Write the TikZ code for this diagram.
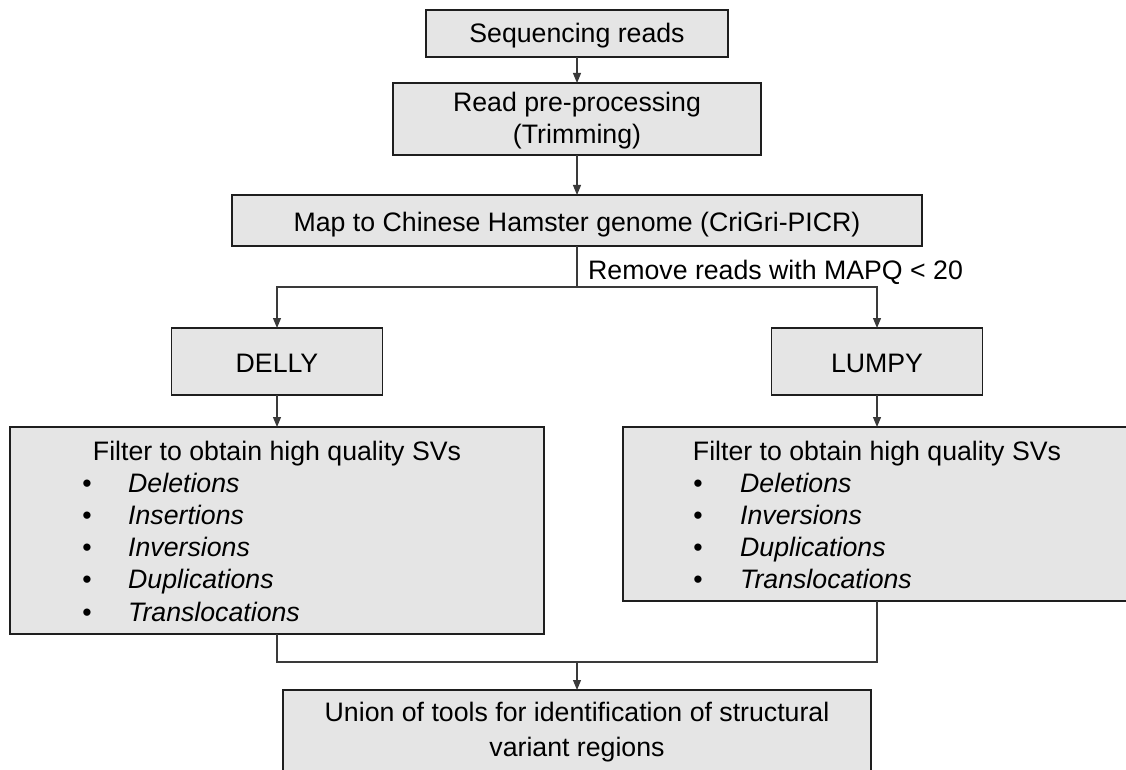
\documentclass[tikz,border=0pt]{standalone}
\usepackage{fontspec}
\setmainfont{Liberation Sans}
\usetikzlibrary{arrows.meta}
\definecolor{boxfill}{HTML}{E5E5E5}
\definecolor{boxline}{HTML}{1E1E1E}
\definecolor{connc}{HTML}{3A3A3A}
\tikzset{
  box/.style={draw=boxline, line width=1.4pt, fill=boxfill, inner sep=0pt, outer sep=0pt},
  txt/.style={anchor=base, inner sep=0pt, font=\fontsize{26.7}{32}\selectfont},
  itm/.style={txt, anchor=base west, font=\fontsize{26.7}{32}\selectfont\itshape},
  conn/.style={draw=connc, line width=1.1pt},
  arr/.style={conn, -{Triangle[length=10pt,width=8pt]}},
}
\begin{document}
\begin{tikzpicture}[x=1pt,y=-1pt]
\useasboundingbox (0,0) rectangle (1126,770);
\clip (0,0) rectangle (1126,770);
% boxes
\node[box, minimum width=302, minimum height=47] (seq) at (577,33.5) {};
\node[box, minimum width=368, minimum height=72] (read) at (577,119) {};
\node[box, minimum width=690, minimum height=51] (map) at (577,220.5) {};
\node[box, minimum width=211, minimum height=67] (delly) at (277,361.5) {};
\node[box, minimum width=211, minimum height=67] (lumpy) at (877,361.5) {};
\node[box, minimum width=534, minimum height=207] (lf) at (277,530.5) {};
\node[box, minimum width=508, minimum height=174] (rf) at (877,514) {};
\node[box, minimum width=588, minimum height=90] (union) at (577,735) {};
% connectors
\coordinate (split) at (577,287);
\coordinate (join) at (577,662);
\draw[arr] (seq.south) -- (read.north);
\draw[arr] (read.south) -- (map.north);
\draw[conn] (map.south) -- (split);
\draw[arr] (split) -| (delly.north);
\draw[arr] (split) -| (lumpy.north);
\draw[arr] (delly.south) -- (lf.north);
\draw[arr] (lumpy.south) -- (rf.north);
\draw[conn] (lf.south) |- (join);
\draw[conn] (rf.south) |- (join);
\draw[arr] (join) -- (union.north);
% texts
\node[txt] (tseq) at (577,42.5) {Sequencing reads};
\node[txt] (tread1) at (577,112) {Read pre-processing};
\node[txt] (tread2) at (577,144) {(Trimming)};
\node[txt] (tmap) at (577,231.5) {Map to Chinese Hamster genome (CriGri-PICR)};
\node[txt, anchor=base west] (tlab) at (588,279) {Remove reads with MAPQ < 20};
\node[txt] (tdelly) at (277,372) {DELLY};
\node[txt] (tlumpy) at (877,372) {LUMPY};
% left list
\node[txt] (lt) at (277,460) {Filter to obtain high quality SVs};
\node[txt] (lb1) at (87,492) {•};
\node[itm] (li1) at (128,492) {Deletions};
\node[txt] (lb2) at (87,524) {•};
\node[itm] (li2) at (128,524) {Insertions};
\node[txt] (lb3) at (87,556) {•};
\node[itm] (li3) at (128,556) {Inversions};
\node[txt] (lb4) at (87,588.5) {•};
\node[itm] (li4) at (128,588.5) {Duplications};
\node[txt] (lb5) at (87,621) {•};
\node[itm] (li5) at (128,621) {Translocations};
% right list
\node[txt] (rt) at (877,460) {Filter to obtain high quality SVs};
\node[txt] (rb1) at (698,492) {•};
\node[itm] (ri1) at (740,492) {Deletions};
\node[txt] (rb2) at (698,524) {•};
\node[itm] (ri2) at (740,524) {Inversions};
\node[txt] (rb3) at (698,556) {•};
\node[itm] (ri3) at (740,556) {Duplications};
\node[txt] (rb4) at (698,588.5) {•};
\node[itm] (ri4) at (740,588.5) {Translocations};
% union text
\node[txt] (tu1) at (577,721) {Union of tools for identification of structural};
\node[txt] (tu2) at (577,756) {variant regions};
\end{tikzpicture}
\end{document}
